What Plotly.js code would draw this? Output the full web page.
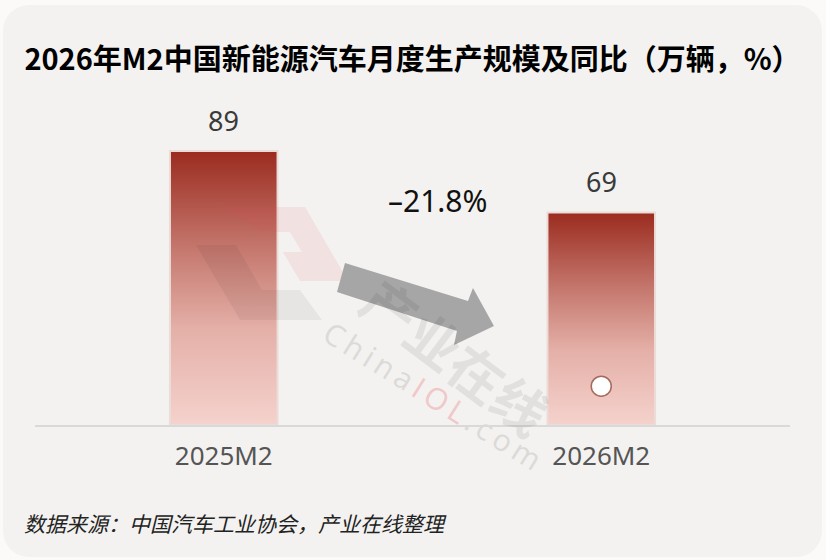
<!DOCTYPE html>
<html>
<head>
<meta charset="utf-8">
<script src="https://cdn.plot.ly/plotly-3.0.1.min.js"></script>
<style>
  html, body { margin: 0; padding: 0; background: #fbfaf9; }
  #card { position: absolute; left: 3px; top: 5px; width: 819px; height: 552px; border-radius: 26px; background: #f3f2f0; }
  #chart { position: absolute; left: 0; top: 0; width: 826px; height: 560px; }
</style>
</head>
<body>
<div id="card"></div>
<div id="chart"></div>
<script>
// ---- data ----
const categories = ['2025M2', '2026M2'];
const production = [89, 69];          // 万辆
const yoyChange = -21.8;               // %
const dotCategory = ['2026M2'];
const dotValue = [12.6];

const titleText = '2026年M2中国新能源汽车月度生产规模及同比（万辆，%）';
const sourceText = '数据来源：中国汽车工业协会，产业在线整理';

// plot area in pixels (for decoration placement)
const L = 35, R = 790, T = 117, B = 425;
function P(px, py) { return [((px - L) / (R - L)).toFixed(4), ((B - py) / (B - T)).toFixed(4)]; }
function pathFrom(pts) { return 'M' + pts.map(p => P(p[0], p[1]).join(',')).join(' L') + ' Z'; }
const arrowPts = [[345,263],[468,301],[473,288],[494,326],[454,345],[457,331],[337,292]];
const logoPinkPts = [[222,207],[305,207],[348,281],[300,281],[283,252],[302,252],[290,232],[262,232]];
const logoGrayPts = [[196,245],[236,245],[262,290],[300,290],[322,320],[240,320]];

const traces = [
  {
    type: 'bar',
    x: categories,
    y: production,
    width: 0.285,
    marker: { color: '#c97f76', line: { color: '#ecdcd8', width: 2 } },
    hoverinfo: 'skip'
  },
  {
    type: 'scatter',
    mode: 'markers',
    x: dotCategory,
    y: dotValue,
    marker: { size: 20, color: '#ffffff', line: { color: '#a46a5c', width: 1.5 } },
    hoverinfo: 'skip'
  }
];

const annotations = categories.map((c, i) => ({
  x: c, y: production[i], xref: 'x', yref: 'y',
  text: String(production[i]), showarrow: false,
  xanchor: 'center', yanchor: 'bottom', yshift: 10,
  font: { family: 'Noto Sans, sans-serif', size: 27, color: '#3a3a3a' }
}));

annotations.push({
  xref: 'paper', yref: 'paper', x: 0.5325, y: 0.73,
  xanchor: 'center', yanchor: 'middle',
  text: '–' + Math.abs(yoyChange).toFixed(1) + '%', showarrow: false,
  font: { family: 'Noto Sans, sans-serif', size: 30, color: '#111111' }
});

// watermark
annotations.push({
  xref: 'paper', yref: 'paper', x: 0.559, y: 0.227,
  xanchor: 'center', yanchor: 'middle',
  text: '产业在线', showarrow: false, textangle: 37,
  font: { family: 'Noto Sans CJK SC, sans-serif', size: 54, color: 'rgba(0,0,0,0.07)', weight: 700 }
});
annotations.push({
  xref: 'paper', yref: 'paper', x: 0.527, y: 0.097,
  xanchor: 'center', yanchor: 'middle',
  text: 'C\u2009h\u2009i\u2009n\u2009a\u2009<span style="color:#f0c8c8">I\u2009O\u2009L</span>\u2009.\u2009c\u2009o\u2009m', showarrow: false, textangle: 32,
  font: { family: 'Open Sans, sans-serif', size: 30, color: '#dcdad8' }
});

annotations.push({
  xref: 'paper', yref: 'paper', x: -0.017, y: -0.318,
  xanchor: 'left', yanchor: 'middle',
  text: sourceText, showarrow: false,
  font: { family: 'Noto Sans CJK SC, sans-serif', size: 21, color: '#222222', style: 'italic' }
});

const layout = {
  width: 826, height: 560,
  paper_bgcolor: 'rgba(0,0,0,0)',
  plot_bgcolor: 'rgba(0,0,0,0)',
  margin: { l: L, r: 826 - R, t: T, b: 560 - B, pad: 0 },
  showlegend: false,
  title: {
    text: '<b>' + titleText + '</b>',
    x: 0.5, xref: 'paper', xanchor: 'center',
    y: 1 - 60 / 560, yref: 'container', yanchor: 'middle',
    font: { family: 'Noto Sans CJK SC, sans-serif', size: 29, color: '#000000' }
  },
  xaxis: {
    type: 'category', range: [-0.5, 1.5],
    showline: true, linecolor: '#d9d9d9', linewidth: 2,
    showgrid: false, zeroline: false, ticks: '',
    ticklabelstandoff: 7,
    tickfont: { family: 'Noto Sans, sans-serif', size: 26, color: '#555555' }
  },
  yaxis: {
    range: [0, 100], visible: false, showgrid: false, zeroline: false
  },
  shapes: [
    { type: 'path', xref: 'paper', yref: 'paper', path: pathFrom(logoPinkPts),
      fillcolor: 'rgba(225,80,90,0.10)', line: { width: 0 }, layer: 'above' },
    { type: 'path', xref: 'paper', yref: 'paper', path: pathFrom(logoGrayPts),
      fillcolor: 'rgba(0,0,0,0.05)', line: { width: 0 }, layer: 'above' },
    { type: 'path', xref: 'paper', yref: 'paper', path: pathFrom(arrowPts),
      fillcolor: '#a6a6a6', line: { width: 0 }, layer: 'above' }
  ],
  annotations: annotations,
  bargap: 0
};

Plotly.newPlot('chart', traces, layout, { staticPlot: true, displayModeBar: false }).then(function (gd) {
  const svgNS = 'http://www.w3.org/2000/svg';
  const svg = gd.querySelector('svg.main-svg');
  let defs = svg.querySelector('defs');
  if (!defs) { defs = document.createElementNS(svgNS, 'defs'); svg.insertBefore(defs, svg.firstChild); }
  const grad = document.createElementNS(svgNS, 'linearGradient');
  grad.setAttribute('id', 'barGrad');
  grad.setAttribute('x1', '0'); grad.setAttribute('y1', '0');
  grad.setAttribute('x2', '0'); grad.setAttribute('y2', '1');
  [['0', '#9b2b1f'], ['0.35', '#c4766c'], ['0.65', '#e4b0a8'], ['1', '#f5d2cd']].forEach(function (s) {
    const st = document.createElementNS(svgNS, 'stop');
    st.setAttribute('offset', s[0]); st.setAttribute('stop-color', s[1]);
    grad.appendChild(st);
  });
  defs.appendChild(grad);
  gd.querySelectorAll('.barlayer .point path').forEach(function (p) {
    p.style.fill = 'url(#barGrad)';
  });
});
</script>
</body>
</html>
